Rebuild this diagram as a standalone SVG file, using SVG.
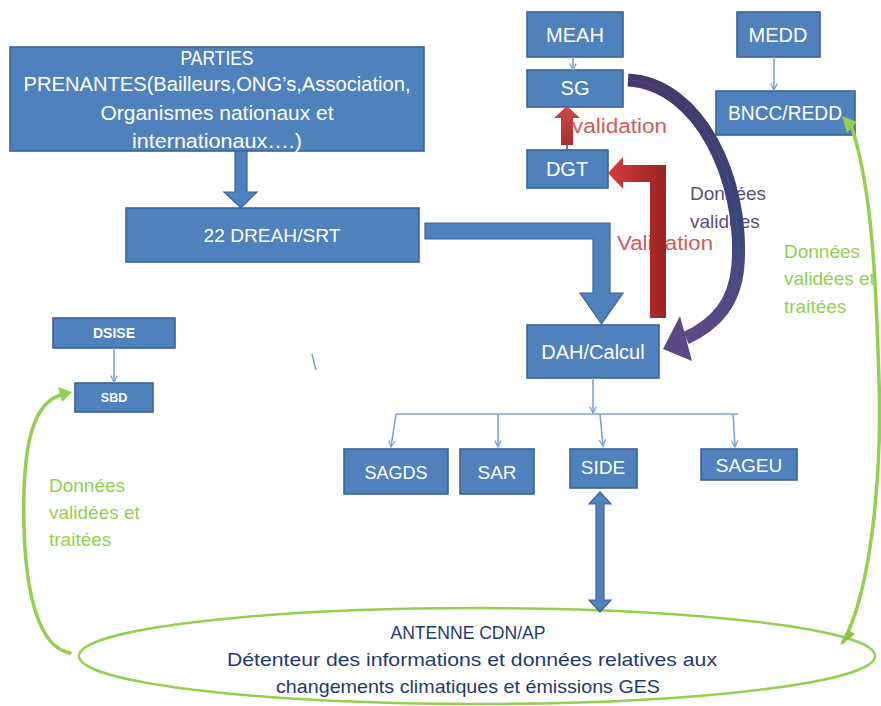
<svg xmlns="http://www.w3.org/2000/svg" width="881" height="706" viewBox="0 0 881 706">
  <defs>
    <style>
      .box { fill: #4f81bd; stroke: #3b6394; stroke-width: 1.6; }
      .lbl { font-family: "Liberation Sans", Arial, sans-serif; fill: #ffffff; text-anchor: middle; }
      .thin { fill: none; stroke: #7aa3d6; stroke-width: 1.6; }
      .green { fill: none; stroke: #92d050; stroke-width: 3.5; stroke-linecap: round; }
      .gtxt { font-family: "Liberation Sans", Arial, sans-serif; fill: #92d050; font-size: 19px; }
      .ptxt { font-family: "Liberation Sans", Arial, sans-serif; fill: #5f4c7e; font-size: 19px; }
      .rtxt { font-family: "Liberation Sans", Arial, sans-serif; fill: #d25a5a; font-size: 20px; }
      .etxt { font-family: "Liberation Sans", Arial, sans-serif; fill: #1f3a6e; font-size: 18.5px; text-anchor: middle; }
      .fat { fill: #4f81bd; stroke: #3b6394; stroke-width: 1.2; }
    </style>
    <marker id="vhead" viewBox="0 0 10 10" refX="9" refY="5" markerWidth="8" markerHeight="8" orient="auto" markerUnits="userSpaceOnUse">
      <path d="M1,1 L9,5 L1,9" fill="none" stroke="#7aa3d6" stroke-width="1.6"/>
    </marker>
    <linearGradient id="redH" x1="0" y1="0" x2="1" y2="0">
      <stop offset="0" stop-color="#d63c3c"/>
      <stop offset="0.6" stop-color="#b02c2c"/>
      <stop offset="1" stop-color="#9c2424"/>
    </linearGradient>
    <linearGradient id="redV" x1="0" y1="0" x2="0" y2="1">
      <stop offset="0" stop-color="#c94a4a"/>
      <stop offset="1" stop-color="#a83030"/>
    </linearGradient>
    <linearGradient id="purp" x1="0" y1="0" x2="0" y2="1">
      <stop offset="0" stop-color="#47386a"/>
      <stop offset="0.5" stop-color="#3a4578"/>
      <stop offset="1" stop-color="#5c4a86"/>
    </linearGradient>
  </defs>

  <!-- flow labels (arrows pass over them) -->
  <g id="labels">
    <text class="rtxt" x="572" y="133" textLength="95" lengthAdjust="spacingAndGlyphs">validation</text>
    <text class="rtxt" x="617" y="250" textLength="96" lengthAdjust="spacingAndGlyphs">Validation</text>
    <text class="ptxt" x="690" y="200">Données</text>
    <text class="ptxt" x="690" y="228">validées</text>
    <text class="gtxt" x="784" y="258">Données</text>
    <text class="gtxt" x="784" y="285">validées et</text>
    <text class="gtxt" x="784" y="313">traitées</text>
    <text class="gtxt" x="49" y="492">Données</text>
    <text class="gtxt" x="49" y="519">validées et</text>
    <text class="gtxt" x="49" y="546">traitées</text>
  </g>

  <!-- nodes -->
  <g id="parties">
    <rect class="box" x="10" y="47" width="414" height="104"/>
    <text class="lbl" font-size="20" x="217" y="65" textLength="73" lengthAdjust="spacingAndGlyphs">PARTIES</text>
    <text class="lbl" font-size="20" x="217" y="91" textLength="387" lengthAdjust="spacingAndGlyphs">PRENANTES(Bailleurs,ONG’s,Association,</text>
    <text class="lbl" font-size="20" x="217" y="120" textLength="233" lengthAdjust="spacingAndGlyphs">Organismes nationaux et</text>
    <text class="lbl" font-size="20" x="217" y="148" textLength="170" lengthAdjust="spacingAndGlyphs">internationaux….)</text>
  </g>
  <g id="dreah">
    <rect class="box" x="126" y="208" width="293" height="54"/>
    <text class="lbl" font-size="19" x="272" y="242" textLength="137" lengthAdjust="spacingAndGlyphs">22 DREAH/SRT</text>
  </g>
  <g id="meah">
    <rect class="box" x="527" y="12" width="96" height="45"/>
    <text class="lbl" font-size="20" x="575" y="42">MEAH</text>
  </g>
  <g id="sg">
    <rect class="box" x="527" y="70" width="96" height="37"/>
    <text class="lbl" font-size="20" x="575" y="95">SG</text>
  </g>
  <g id="dgt">
    <rect class="box" x="527" y="150" width="81" height="38"/>
    <text class="lbl" font-size="20" x="567" y="176">DGT</text>
  </g>
  <g id="medd">
    <rect class="box" x="737" y="12" width="83" height="45"/>
    <text class="lbl" font-size="20" x="778" y="42">MEDD</text>
  </g>
  <g id="bncc">
    <rect class="box" x="716" y="91" width="139" height="44"/>
    <text class="lbl" font-size="20" x="785" y="120" textLength="114" lengthAdjust="spacingAndGlyphs">BNCC/REDD</text>
  </g>
  <g id="dah">
    <rect class="box" x="527" y="325" width="132" height="53"/>
    <text class="lbl" font-size="20" x="593" y="359">DAH/Calcul</text>
  </g>
  <g id="dsise">
    <rect class="box" x="53" y="318" width="122" height="30"/>
    <text class="lbl" font-size="14" font-weight="bold" x="114" y="338">DSISE</text>
  </g>
  <g id="sbd">
    <rect class="box" x="75" y="383" width="78" height="29"/>
    <text class="lbl" font-size="12.5" font-weight="bold" x="114" y="402">SBD</text>
  </g>
  <g id="sagds">
    <rect class="box" x="344" y="449" width="104" height="45"/>
    <text class="lbl" font-size="19" x="396" y="479" textLength="63" lengthAdjust="spacingAndGlyphs">SAGDS</text>
  </g>
  <g id="sar">
    <rect class="box" x="460" y="449" width="74" height="45"/>
    <text class="lbl" font-size="19" x="497" y="479">SAR</text>
  </g>
  <g id="side">
    <rect class="box" x="570" y="449" width="67" height="39"/>
    <text class="lbl" font-size="19" x="603" y="474">SIDE</text>
  </g>
  <g id="sageu">
    <rect class="box" x="701" y="449" width="96" height="31"/>
    <text class="lbl" font-size="19" x="749" y="472">SAGEU</text>
  </g>
  <g id="antenne">
    <ellipse cx="477" cy="656" rx="398" ry="48" fill="none" stroke="#92d050" stroke-width="2.5"/>
    <text class="etxt" x="468" y="639" textLength="155" lengthAdjust="spacingAndGlyphs">ANTENNE CDN/AP</text>
    <text class="etxt" x="472" y="666" textLength="490" lengthAdjust="spacingAndGlyphs">Détenteur des informations et données relatives  aux</text>
    <text class="etxt" x="468" y="693" textLength="384" lengthAdjust="spacingAndGlyphs">changements climatiques et émissions GES</text>
  </g>

  <!-- connectors -->
  <g id="connectors">
    <!-- thick block arrows -->
    <polygon class="fat" points="235,151 247,151 247,192 257,192 241,208 224,192 235,192"/>
    <polygon class="fat" points="425,223 610,223 610,293 623,293 601.5,324 580,293 593,293 593,239 425,239"/>

    <!-- red validation arrows -->
    <polygon fill="url(#redH)" points="650,318 650,182 623,182 623,189 608,173 623,157 623,165 666,165 666,318"/>
    <line x1="567" y1="144" x2="567" y2="150" stroke="#4f81bd" stroke-width="2"/>
    <polygon fill="url(#redV)" points="561,145 561,118 554,118 567,106 580,118 573,118 573,145"/>

    <!-- curved data arrow SG -> DAH/Calcul -->
    <path d="M628,80 C700,84 744,180 738,265 C735,303 716,324 686,338" fill="none" stroke="url(#purp)" stroke-width="13"/>
    <path d="M628,80 C700,84 744,180 738,265 C735,303 716,324 686,338" fill="none" stroke="#3a5f9a" stroke-width="1" stroke-opacity="0.5"/>
    <polygon fill="#5a4884" points="663,349 680,316 692,361"/>

    <!-- thin connectors -->
    <line class="thin" x1="573" y1="57" x2="573" y2="70" marker-end="url(#vhead)"/>
    <line class="thin" x1="774" y1="57" x2="774" y2="90" marker-end="url(#vhead)"/>
    <line class="thin" x1="114" y1="348" x2="114" y2="382" marker-end="url(#vhead)"/>
    <line class="thin" x1="593" y1="378" x2="593" y2="413" marker-end="url(#vhead)"/>
    <line class="thin" x1="396" y1="414" x2="738" y2="414"/>
    <line class="thin" x1="396" y1="414" x2="391" y2="447" marker-end="url(#vhead)"/>
    <line class="thin" x1="498" y1="414" x2="498" y2="447" marker-end="url(#vhead)"/>
    <line class="thin" x1="600" y1="414" x2="603" y2="446" marker-end="url(#vhead)"/>
    <line class="thin" x1="733" y1="414" x2="735" y2="447" marker-end="url(#vhead)"/>
    <line class="thin" x1="312" y1="354" x2="316" y2="370"/>

    <!-- SIDE <-> ANTENNE double arrow -->
    <polygon class="fat" points="600,492 611,504 604,504 604,600 611,600 600,612 589,600 596,600 596,504 589,504"/>

    <!-- green data flows -->
    <path class="green" d="M70,653 C32,646 22,570 24,490 C26,430 38,400 64,394"/>
    <polygon fill="#92d050" points="72,392 58,387 62,402"/>
    <path class="green" d="M843,642 C872,590 882,470 879,380 C876,280 872,190 852,128"/>
    <polygon fill="#92d050" points="842,116 857,122 847,133"/>
    <polygon fill="#86c440" points="840,646 848,630 855,634"/>
  </g>
</svg>
